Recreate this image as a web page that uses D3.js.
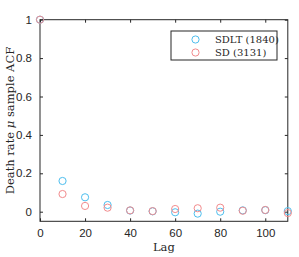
<!DOCTYPE html>
<html>
<head>
<meta charset="utf-8">
<title>acf</title>
<script src="https://cdn.jsdelivr.net/npm/d3@7"></script>
<style>
body{margin:0;background:#fff;}
</style>
</head>
<body>
<svg id="chart" width="299" height="257"></svg>
<script>
// lags and ACF values
var lags = [0, 10, 20, 30, 40, 50, 60, 70, 80, 90, 100, 110];
var sdlt = [1, 0.16, 0.075, 0.035, 0.006, 0.002, -0.003, -0.01, 0.0, 0.007, 0.008, 0.003];
var sd   = [1, 0.092, 0.03, 0.021, 0.007, 0.003, 0.014, 0.018, 0.021, 0.005, 0.009, -0.007];
var seriesNames = ["SDLT (1840)", "SD (3131)"];
var seriesColors = ["#4dbeee", "#f28b8d"];
var xTicks = [0, 20, 40, 60, 80, 100];
var yTicks = [0, 0.2, 0.4, 0.6, 0.8, 1];

var serif = "DejaVu Serif";
var svg = d3.select("#chart");
var x = d3.scaleLinear().domain([0, 110]).range([40, 287.8]);
var y = d3.scaleLinear().domain([-0.05, 1]).range([221.3, 19.7]);

var ax = svg.append("g").attr("font-family", "Liberation Sans");

// box
ax.append("rect").attr("x", x(0)).attr("y", y(1)).attr("width", x(110) - x(0)).attr("height", y(-0.05) - y(1))
  .attr("fill", "none").attr("stroke", "#262626").attr("stroke-width", 1);

var xAxisB = d3.axisBottom(x).tickValues(xTicks).tickSizeInner(-3).tickSizeOuter(0).tickPadding(8);
var gx = ax.append("g").attr("transform", "translate(0," + y(-0.05) + ")").call(xAxisB);
gx.select(".domain").remove();
var xAxisT = d3.axisTop(x).tickValues(xTicks).tickSizeInner(-3).tickSizeOuter(0).tickFormat("");
var gxt = ax.append("g").attr("transform", "translate(0," + y(1) + ")").call(xAxisT);
gxt.select(".domain").remove();

var yAxisL = d3.axisLeft(y).tickValues(yTicks).tickSizeInner(-3).tickSizeOuter(0).tickPadding(8).tickFormat(d3.format("~g"));
var gy = ax.append("g").attr("transform", "translate(" + x(0) + ",0)").call(yAxisL);
gy.select(".domain").remove();
var yAxisR = d3.axisRight(y).tickValues(yTicks).tickSizeInner(-3).tickSizeOuter(0).tickFormat("");
var gyr = ax.append("g").attr("transform", "translate(" + x(110) + ",0)").call(yAxisR);
gyr.select(".domain").remove();

ax.selectAll("g").attr("font-family", null);
ax.selectAll(".tick line").attr("stroke", "#262626");
ax.selectAll(".tick text").attr("fill", "#262626").attr("font-size", 11.5);

// labels
svg.append("text").attr("font-family", serif).attr("x", x(55)).attr("y", 251).attr("text-anchor", "middle")
  .attr("font-size", 11.5).attr("fill", "#262626").text("Lag");
svg.append("text").attr("font-family", serif).attr("transform", "translate(14," + y(0.475) + ") rotate(-90)").attr("text-anchor", "middle")
  .attr("font-size", 11.5).attr("fill", "#262626")
  .html("Death rate <tspan font-style='italic'>μ</tspan> sample ACF");

// markers
var all = [sdlt, sd];
all.forEach(function(vals, i){
  svg.append("g").selectAll("circle").data(vals).enter().append("circle")
    .attr("cx", function(d, j){ return x(lags[j]); })
    .attr("cy", function(d){ return y(d); })
    .attr("r", 3.6).attr("fill", "none").attr("stroke", seriesColors[i]).attr("stroke-width", 1);
});

// legend
var lg = svg.append("g");
lg.append("rect").attr("x", 171).attr("y", 31).attr("width", 106).attr("height", 29)
  .attr("fill", "#fff").attr("stroke", "#262626").attr("stroke-width", 1);
seriesNames.forEach(function(n, i){
  lg.append("circle").attr("cx", 195.5).attr("cy", 39.5 + i * 13).attr("r", 3.6)
    .attr("fill", "none").attr("stroke", seriesColors[i]).attr("stroke-width", 1);
  lg.append("text").attr("font-family", serif).attr("x", 215).attr("y", 43 + i * 13)
    .attr("font-size", 10).attr("fill", "#262626").text(n);
});
</script>
</body>
</html>
